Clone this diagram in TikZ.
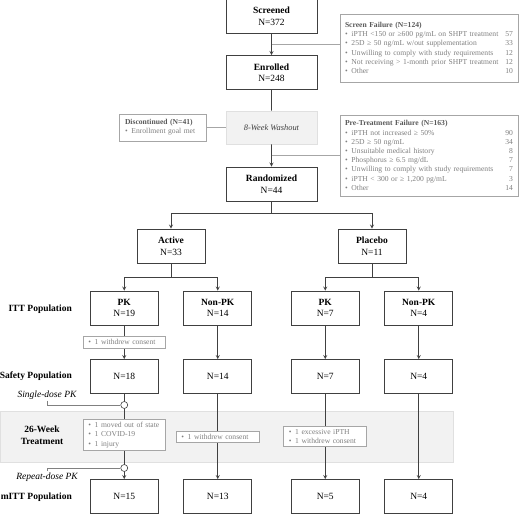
\documentclass[tikz,border=0pt]{standalone}
\usepackage{fontspec}
\setmainfont{Liberation Serif}
\usepackage{tikz}
\usetikzlibrary{calc}

\definecolor{dgray}{HTML}{404040}
\definecolor{hgray}{HTML}{595959}
\definecolor{tgray}{HTML}{808080}
\definecolor{mgray}{HTML}{A6A6A6}
\definecolor{bandgray}{HTML}{F2F2F2}
\definecolor{bandline}{HTML}{E0E0E0}

\hyphenpenalty=10000
\newcommand{\sitem}[2]{\textbullet\enspace #1\hfill #2}
\newcommand{\shead}[1]{\textcolor{hgray}{\textbf{#1}}}

\begin{document}
\begin{tikzpicture}[->,>=stealth,x=1pt,y=1pt,
    mainbox/.style={rectangle,draw=dgray,line width=0.8pt,fill=white,minimum width=91pt,minimum height=34pt,
      align=center,inner sep=2pt,font=\fontsize{9.5}{11.5}\selectfont},
    armbox/.style={mainbox,minimum width=68pt},
    washbox/.style={mainbox,draw=bandline,fill=bandgray,text=dgray,minimum height=33pt,
      font=\fontsize{8.4}{10}\itshape},
    sidebox/.style={rectangle,draw=mgray,line width=0.6pt,fill=white,align=left,text=tgray,
      inner xsep=6pt,inner ysep=3pt,font=\fontsize{7.6}{9.2}\selectfont},
    poplab/.style={anchor=east,align=center,inner sep=0pt,font=\fontsize{9.5}{12}\bfseries},
    doselab/.style={inner sep=1pt,font=\fontsize{9.5}{11}\itshape},
    pkdot/.style={circle,draw=dgray,fill=white,line width=0.6pt,inner sep=0pt,minimum size=7pt},
    sideline/.style={-,draw=mgray,line width=0.6pt},
    doseline/.style={-,draw=tgray,line width=0.6pt},
    fork/.style={edge from parent path={(\tikzparentnode.south) -- ++(0,-#1) -| (\tikzchildnode.north)}},
    straight/.style={edge from parent path={(\tikzparentnode.south) -- (\tikzchildnode.north)}},
    edge from parent/.style={draw=dgray,line width=0.8pt},
    level 1/.style={level distance=56pt,->},
    level 2/.style={level distance=55pt,-},
    level 3/.style={level distance=56.5pt,->},
    level 4/.style={level distance=62pt,sibling distance=201pt,fork=12pt},
    level 5/.style={level distance=62pt,sibling distance=93.5pt,fork=14pt},
    level 6/.style={level distance=68.5pt,straight},
    level 7/.style={level distance=120pt,straight}]

  \useasboundingbox (0,0) rectangle (520,-514);

  % treatment band
  \draw[-,draw=bandline,fill=bandgray,line width=0.6pt] (0,-411) rectangle (453,-462);

  \node[mainbox] (scr) at (271.5,-16.5) {\textbf{Screened}\\N=372}
    child {node[mainbox] (enr) {\textbf{Enrolled}\\N=248}
      child {node[washbox] (wash) {8-Week Washout}
        child {node[mainbox] (rand) {\textbf{Randomized}\\N=44}
          child {node[armbox] (act) {\textbf{Active}\\N=33}
            child {node[armbox] (apk) {\textbf{PK}\\N=19}
              child {node[armbox] (asaf) {N=18}
                child {node[armbox] (amitt) {N=15}}
              }
            }
            child {node[armbox] (anpk) {\textbf{Non-PK}\\N=14}
              child {node[armbox] (ansaf) {N=14}
                child {node[armbox] (anmitt) {N=13}}
              }
            }
          }
          child {node[armbox] (plc) {\textbf{Placebo}\\N=11}
            child {node[armbox] (ppk) {\textbf{PK}\\N=7}
              child {node[armbox] (psaf) {N=7}
                child {node[armbox] (pmitt) {N=5}}
              }
            }
            child {node[armbox] (pnpk) {\textbf{Non-PK}\\N=4}
              child {node[armbox] (pnsaf) {N=4}
                child {node[armbox] (pnmitt) {N=4}}
              }
            }
          }
        }
      }
    };

  % exclusions
  \node[sidebox,text width=168pt,inner xsep=5pt,minimum height=68pt] (sfail) at (429,-48) {%
    \shead{Screen Failure (N=124)}\\
    \sitem{iPTH <150 or ≥600 pg/mL on SHPT treatment}{57}\\
    \sitem{25D ≥ 50 ng/mL w/out supplementation}{33}\\
    \sitem{Unwilling to comply with study requirements}{12}\\
    \sitem{Not receiving > 1-month prior SHPT treatment}{12}\\
    \sitem{Other}{10}};
  \node[sidebox,text width=168pt,inner xsep=5pt,minimum height=81pt] (ptfail) at (429,-155.5) {%
    \shead{Pre-Treatment Failure (N=163)}\\
    \sitem{iPTH not increased ≥ 50\%}{90}\\
    \sitem{25D ≥ 50 ng/mL}{34}\\
    \sitem{Unsuitable medical history}{8}\\
    \sitem{Phosphorus ≥ 6.5 mg/dL}{7}\\
    \sitem{Unwilling to comply with study requirements}{7}\\
    \sitem{iPTH < 300 or ≥ 1,200 pg/mL}{3}\\
    \sitem{Other}{14}};
  \node[sidebox,text width=75pt,minimum height=27pt] (disc) at (162.5,-127.5) {%
    \shead{Discontinued (N=41)}\\
    \textbullet\enspace Enrollment goal met};

  \coordinate (sfbr) at ($(scr.south)!0.5!(enr.north)$);
  \coordinate (ptbr) at ($(wash.south)!0.5!(rand.north)$);
  \draw[sideline] (sfbr) -- (sfbr -| sfail.west);
  \draw[sideline] (ptbr) -- (ptbr -| ptfail.west);
  \draw[sideline] (wash.west) -- (disc.east);

  % dropouts
  \node[sidebox,text width=72pt,inner xsep=5pt] (wdpk) at ($(apk.south)!0.5!(asaf.north)$) {\textbullet\enspace 1 withdrew consent};
  \node[sidebox,text width=72pt,inner xsep=5pt] (lostpk) at (apk |- 0,-435) {%
    \textbullet\enspace 1 moved out of state\\
    \textbullet\enspace 1 COVID-19\\
    \textbullet\enspace 1 injury};
  \node[sidebox,text width=73pt,inner xsep=5pt] (wdnpk) at (anpk |- 0,-436.5) {\textbullet\enspace 1 withdrew consent};
  \node[sidebox,text width=73pt,inner xsep=5pt] (lostppk) at (ppk |- 0,-436.5) {%
    \textbullet\enspace 1 excessive iPTH\\
    \textbullet\enspace 1 withdrew consent};

  % PK sampling
  \node[pkdot] (sdose) at (apk |- 0,-405) {};
  \node[pkdot] (rdose) at (apk |- 0,-468) {};
  \node[doselab] (sdlab) at (47,-395) {Single-dose PK};
  \node[doselab] (rdlab) at (47,-477) {Repeat-dose PK};
  \draw[doseline] (sdlab.south) |- (sdose.west);
  \draw[doseline] (rdlab.north) |- (rdose.west);

  % populations
  \node[poplab] (ittlab) at (72,-309) {ITT Population};
  \node[poplab] (saflab) at (72,-376.5) {Safety Population};
  \node[poplab,anchor=center] (wklab) at (42,-435) {26-Week\\Treatment};
  \node[poplab] (mittlab) at (72,-497) {mITT Population};

\end{tikzpicture}
\end{document}
